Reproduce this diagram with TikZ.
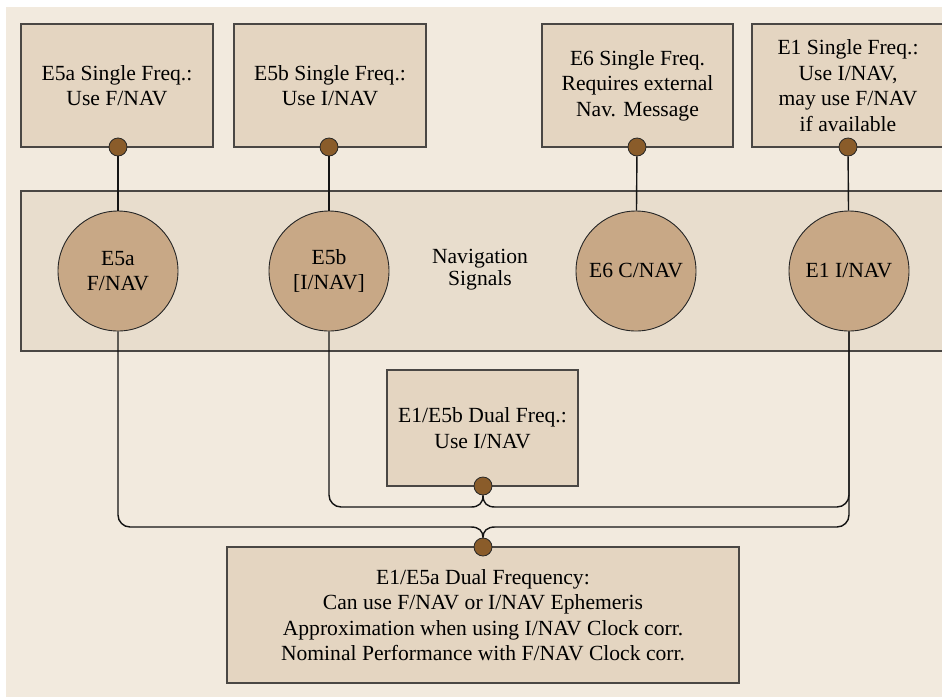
\documentclass[tikz,border=0pt]{standalone}
\usepackage{fontspec}
\setmainfont{Liberation Serif}
\definecolor{bgcol}{HTML}{F2EADE}
\definecolor{boxfill}{HTML}{E4D5C1}
\definecolor{bandfill}{HTML}{E8DDCD}
\definecolor{sigfill}{HTML}{C8A886}
\definecolor{dotfill}{HTML}{8A5C2A}
\definecolor{boxline}{HTML}{4A4744}
\begin{document}
\begin{tikzpicture}[x=1pt,y=-1pt,
  txt/.style={font=\fontsize{21.6}{25.5}\selectfont, align=center, text=black},
  infobox/.style={txt, draw=boxline, fill=boxfill, line width=1.1pt, inner sep=0pt},
  sig/.style={txt, circle, draw=black!85, fill=sigfill, line width=0.9pt, minimum size=120pt, inner sep=0pt},
  dot/.style={circle, draw=black!85, fill=dotfill, line width=0.8pt, minimum size=18pt, inner sep=0pt},
  conn/.style={draw=black!92, line width=1.4pt}]
\useasboundingbox (0,0) rectangle (942,697);
\fill[white] (0,0) rectangle (942,697);
\fill[bgcol] (6,7) rectangle (942,697);
% band
\node[draw=boxline, fill=bandfill, line width=1.1pt, minimum width=939pt, minimum height=160pt, inner sep=0pt] (band) at (490.5,271) {};
\node[txt, font=\fontsize{21.6}{22.5}\selectfont] (navsig) at (480,269.5) {Navigation\\Signals};
% top boxes
\node[infobox, minimum width=192pt, minimum height=123pt] (b1) at (117,85.5) {E5a Single Freq.:\\Use F/NAV};
\node[infobox, minimum width=192pt, minimum height=123pt] (b2) at (330,85.5) {E5b Single Freq.:\\Use I/NAV};
\node[infobox, minimum width=191pt, minimum height=123pt] (b3) at (637.5,85.5) {E6 Single Freq.\\Requires external\\Nav. Message};
\node[infobox, minimum width=192pt, minimum height=123pt] (b4) at (848,85.5) {E1 Single Freq.:\\Use I/NAV,\\may use F/NAV\\if available};
% signals
\node[sig] (c1) at (118,271) {E5a\\F/NAV};
\node[sig] (c2) at (329,271) {E5b\\{[I/NAV]}};
\node[sig] (c3) at (636,271) {E6 C/NAV};
\node[sig] (c4) at (849,271) {E1 I/NAV};
% lower boxes
\node[infobox, minimum width=191pt, minimum height=116pt] (b5) at (482.5,428) {E1/E5b Dual Freq.:\\Use I/NAV};
\node[infobox, minimum width=512pt, minimum height=136pt] (b6) at (483,615) {E1/E5a Dual Frequency:\\Can use F/NAV or I/NAV Ephemeris\\Approximation when using I/NAV Clock corr.\\Nominal Performance with F/NAV Clock corr.};
% dots
\node[dot] (d1) at (118,147) {};
\node[dot] (d2) at (329,147) {};
\node[dot] (d3) at (637,147) {};
\node[dot] (d4) at (848,147) {};
\node[dot] (dA) at (483,486) {};
\node[dot] (dB) at (483,547) {};
% bus ends
\coordinate (la) at (471,507);
\coordinate (ra) at (495,507);
\coordinate (lb) at (471,527);
\coordinate (rb) at (495,527);
% connectors
\draw[conn] (d1) -- (c1);
\draw[conn] (d2) -- (c2);
\draw[conn] (d3) -- (c3);
\draw[conn] (d4) -- (c4);
\draw[conn, rounded corners=12pt] (c2.south) |- (la);
\draw[conn] (la) .. controls (479,507) and (483,503) .. (dA.south);
\draw[conn, rounded corners=12pt] (c4.south) |- (ra);
\draw[conn] (ra) .. controls (487,507) and (483,503) .. (dA.south);
\draw[conn, rounded corners=12pt] (c1.south) |- (lb);
\draw[conn] (lb) .. controls (479,527) and (483,531) .. (dB.north);
\draw[conn, rounded corners=12pt] (c4.south) |- (rb);
\draw[conn] (rb) .. controls (487,527) and (483,531) .. (dB.north);
\end{tikzpicture}
\end{document}
